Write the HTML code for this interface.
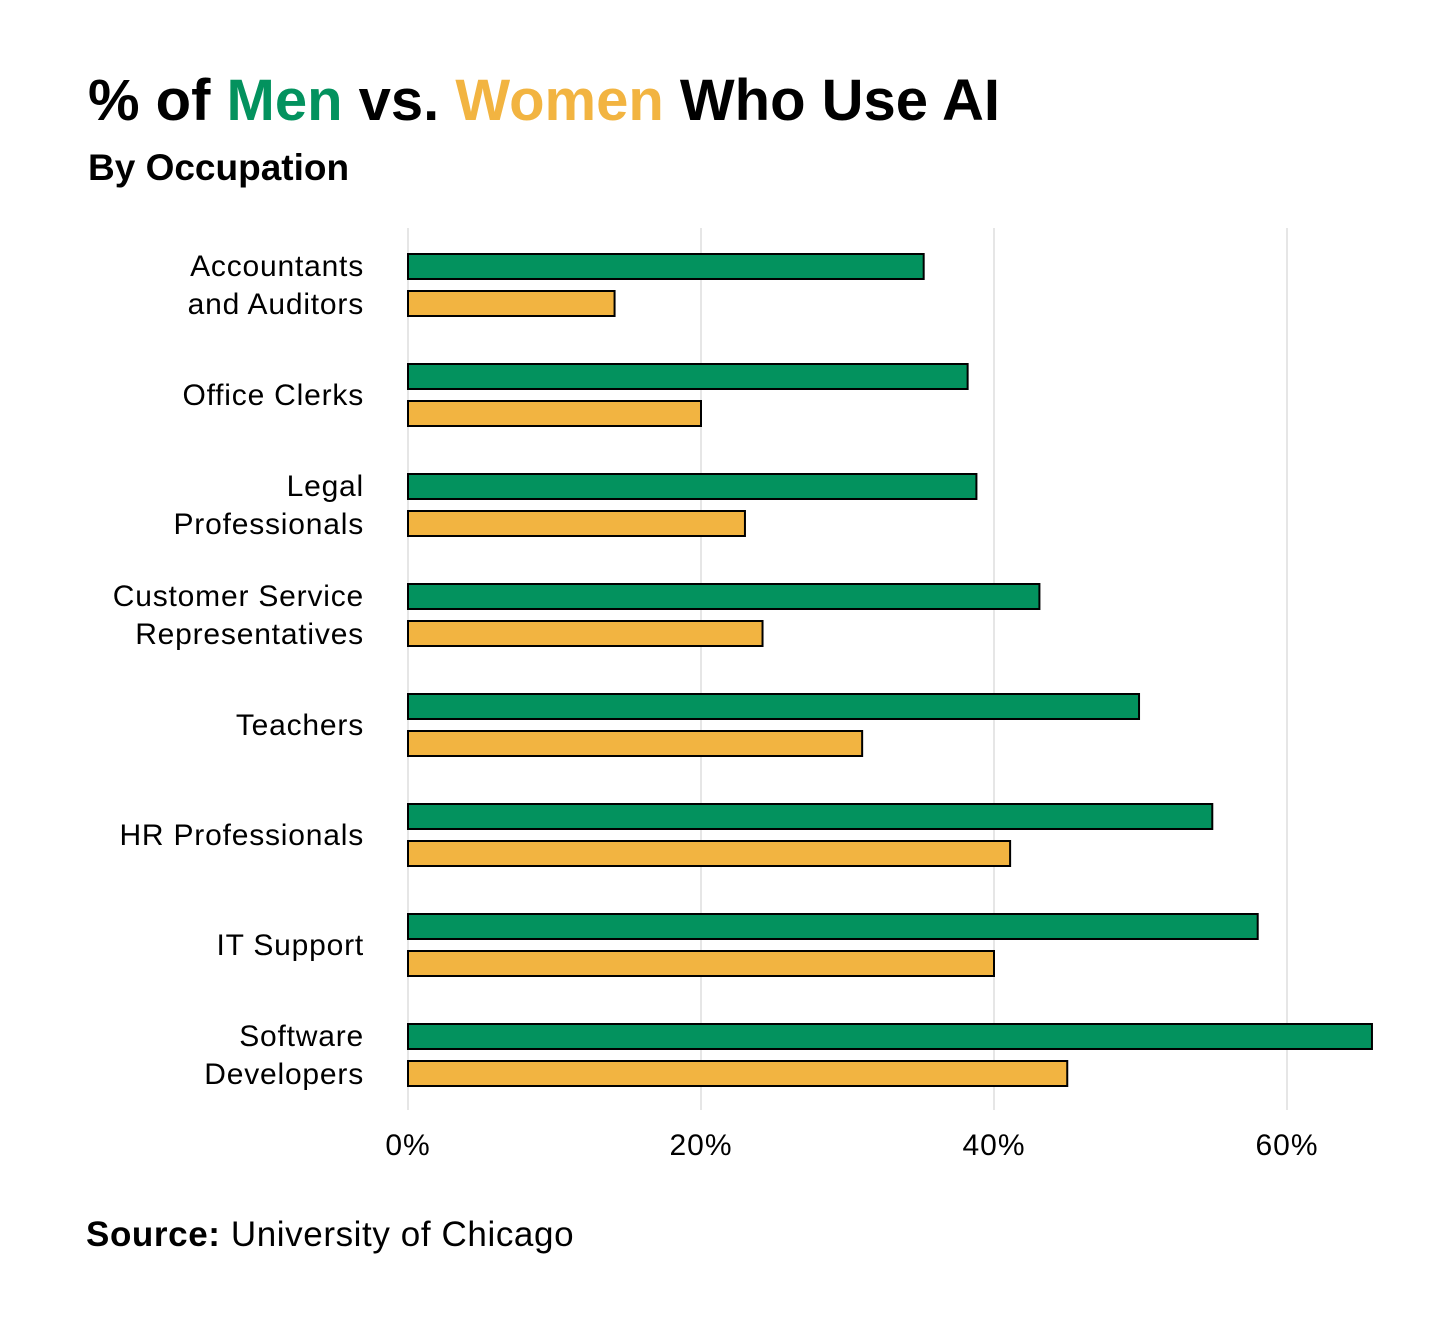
<!DOCTYPE html>
<html><head><meta charset="utf-8"><style>
html,body{margin:0;padding:0;background:#fff;}
svg{display:block;font-family:"Liberation Sans","DejaVu Sans",sans-serif;}
</style></head><body>
<svg id="chart" width="1456" height="1320" viewBox="0 0 1456 1320">
<text x="88" y="120" font-size="58" font-weight="bold" fill="#000">% of <tspan fill="#03925e">Men</tspan> vs. <tspan fill="#f2b441">Women</tspan> Who Use AI</text>
<text x="88" y="180" font-size="37" font-weight="bold" fill="#000">By Occupation</text>
<g id="grid"></g><g id="bars"></g><g id="labels"></g><g id="ticks"></g>
<text x="86" y="1246" font-size="35" fill="#000" letter-spacing="0.6"><tspan font-weight="bold">Source:</tspan> University of Chicago</text>
</svg>
<script>
const categories=[["Accountants","and Auditors"],["Office Clerks"],["Legal","Professionals"],["Customer Service","Representatives"],["Teachers"],["HR Professionals"],["IT Support"],["Software","Developers"]];
const menValues=[35.2,38.2,38.8,43.1,49.9,54.9,58,65.8];
const womenValues=[14.1,20,23,24.2,31,41.1,40,45];
const tickValues=[0,20,40,60];
const tickLabels=["0%","20%","40%","60%"];
const NS="http://www.w3.org/2000/svg";
const x=v=>408+v*14.65;
const gy=i=>254+i*110;
function mk(t,a,p){const e=document.createElementNS(NS,t);for(const k in a)e.setAttribute(k,a[k]);p.appendChild(e);return e;}
const G=document.getElementById('grid'),B=document.getElementById('bars'),L=document.getElementById('labels'),T=document.getElementById('ticks');
tickValues.forEach((v,i)=>{
 const l=mk('line',{x1:x(v),x2:x(v),y1:228,y2:1110,stroke:'#e6e6e6','stroke-width':2},G);
 
 
 const t=mk('text',{x:x(v),y:1155,'font-size':30,'letter-spacing':1,'text-anchor':'middle',fill:'#000'},T);
 t.textContent=tickLabels[i];
 
 
});
categories.forEach((c,i)=>{
 const y=gy(i);
 const m=mk('rect',{x:408,y:y,width:x(menValues[i])-408,height:25,fill:'#03925e',stroke:'#000','stroke-width':2},B);
 
 
 const w=mk('rect',{x:408,y:y+37,width:x(womenValues[i])-408,height:25,fill:'#f2b441',stroke:'#000','stroke-width':2},B);
 
 
 const t=mk('text',{'font-size':30,'letter-spacing':0.8,'text-anchor':'end',fill:'#000'},L);
 
 
 const cy=y+31;
 if(c.length===1){const s=mk('tspan',{x:364,y:cy+10},t);s.textContent=c[0];}
 else{c.forEach((ln,j)=>{const s=mk('tspan',{x:364,y:cy-9+j*38},t);s.textContent=ln;});}
});
</script>
</body></html>
